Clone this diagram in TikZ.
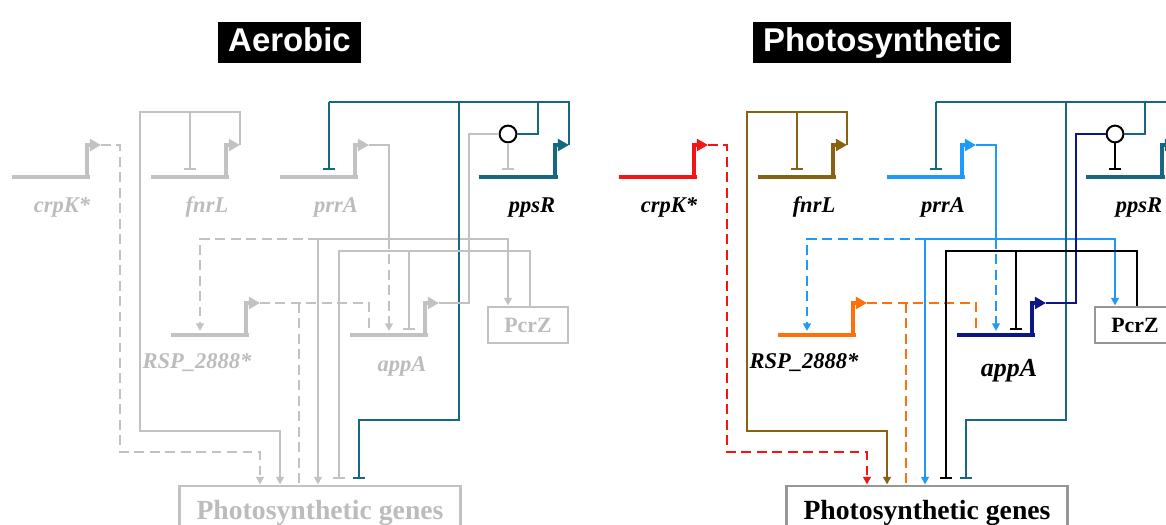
\documentclass[tikz,border=0pt]{standalone}
\usepackage{fontspec}
\setmainfont{Liberation Serif}
\newfontfamily\headfont{Liberation Sans}
\usetikzlibrary{arrows.meta}
\definecolor{netgray}{RGB}{194,194,194}
\definecolor{labgray}{RGB}{188,188,188}
\definecolor{boxgray}{RGB}{150,150,150}
\definecolor{crpkred}{RGB}{245,20,20}
\definecolor{fnrlbrown}{RGB}{135,98,18}
\definecolor{prrablue}{RGB}{30,155,250}
\definecolor{ppsrteal}{RGB}{22,104,128}
\definecolor{appanavy}{RGB}{12,22,135}
\definecolor{rsporange}{RGB}{255,112,10}
\tikzset{
  gene/.style={line width=3.2pt},
  prom/.style={line width=2.2pt, -{Triangle[length=8pt,width=8.5pt]}},
  link/.style={line width=1.5pt},
  act/.style={link, -{Triangle[length=5.5pt,width=5.5pt]}},
  inh/.style={link, -{Bar[width=8pt]}},
  dsh/.style={dash pattern=on 7pt off 4pt},
  glabel/.style={anchor=base, inner sep=0pt, font=\fontsize{16}{18}\selectfont\bfseries\itshape},
  appalabel/.style={},
  cplx/.style={circle, draw=black, fill=white, line width=1.4pt, minimum size=0.42cm, inner sep=0pt},
  pcrzbox/.style={draw=cbox, line width=2.1pt, minimum width=2cm, minimum height=0.9cm,
                  inner sep=0pt, font=\fontsize{15.5}{18}\selectfont\bfseries},
  pgbox/.style={draw=cbox, line width=2.1pt, minimum width=7cm, minimum height=1.35cm,
                inner sep=0pt, font=\fontsize{19.7}{22}\selectfont\bfseries},
  titlebox/.style={fill=black, text=white, minimum height=1.025cm, inner sep=0pt,
                   text height=17pt, text depth=4pt, font=\headfont\fontsize{23.4}{26}\selectfont\bfseries},
}
\newcommand\netpanel{%
  \node[pcrzbox, text=cboxtext] (pcrz) at (528,325) {PcrZ};
  \node[pgbox, text=cboxtext] (pg) at (320,513) {Photosynthetic genes};
  \coordinate (pgbar) at ([yshift=4pt]pg.north);
  \node[cplx] (cx) at (508,134) {};
  \foreach \g/\xs/\xe/\y in {crpk/12/90/177, fnrl/151/229/177, prra/280/358/177,
                             ppsr/479/558/177, rsp/171/249/335, appa/350/428/335}{
    \draw[gene, draw=c\g] (\xs,\y) -- (\xe,\y);
    \draw[prom, draw=c\g] (\xe-3,\y) -- (\xe-3,\y-32) -- (\xe+11,\y-32) coordinate (\g-p);
  }
  \node[glabel, text=clab] (crpk-l) at (62,213) {crpK*};
  \node[glabel, text=clab] (fnrl-l) at (207,213) {fnrL};
  \node[glabel, text=clab] (prra-l) at (336,213) {prrA};
  \node[glabel] (ppsr-l) at (532,213) {ppsR};
  \node[glabel, text=clab] (rsp-l) at (197,368) {RSP\_2888*};
  \node[glabel, text=clab, appalabel] (appa-l) at (402,371) {appA};
  \draw[act, dsh, draw=ccrpk] (crpk-p) -| (120,452) -| (260,0 |- pg.north);
  \draw[act, draw=cfnrl] (fnrl-p) |- (140,112) -- (140,431) -| (280,0 |- pg.north);
  \draw[inh, draw=cfnrl] (190,112) -- (190,170);
  \draw[link, draw=cprra] (prra-p) -| (389,239);
  \draw[act, draw=cprra] (318,239) -- (318,0 |- pg.north);
  \draw[act, draw=cprra] (318,239) -| (508,0 |- pcrz.north);
  \draw[act, dsh, draw=cprra] (318,239) -| (200,331);
  \draw[act, dsh, draw=cprra] (389,239) -- (389,331);
  \draw[link, draw=cppsr] (ppsr-p) |- (329,102);
  \draw[inh, draw=cppsr] (329,102) -- (329,170);
  \draw[inh, draw=cppsr] (459,102) -- (459,420) -| (359,0 |- pgbar);
  \draw[link, draw=cppsr] (538,102) |- (cx.east);
  \draw[inh, draw=cstem] (cx.south) -- (508,170);
  \draw[link, draw=cappa] (appa-p) -| (469,134) -- (cx.west);
  \draw[link, dsh, draw=crsp] (rsp-p) -| (369,333);
  \draw[link, dsh, draw=crsp] (299,303) -- (299,0 |- pg.north);
  \draw[inh, draw=cpcrz] (530,0 |- pcrz.north) |- (339,251) -- (339,0 |- pgbar);
  \draw[inh, draw=cpcrz] (409,251) -- (409,330);
}
\begin{document}
\begin{tikzpicture}[x=0.025cm, y=-0.025cm]
  \useasboundingbox (0,0) rectangle (1166,525);
  \clip (0,0) rectangle (1166,525);
  \node[titlebox, minimum width=3.575cm] (aer) at (289.5,42.5) {Aerobic};
  \node[titlebox, minimum width=6.45cm] (pho) at (882,42.5) {Photosynthetic};
  \begin{scope}[name prefix=aer-]
    \colorlet{ccrpk}{netgray}\colorlet{cfnrl}{netgray}\colorlet{cprra}{netgray}
    \colorlet{cppsr}{ppsrteal}\colorlet{crsp}{netgray}\colorlet{cappa}{netgray}
    \colorlet{cpcrz}{netgray}\colorlet{cstem}{netgray}\colorlet{clab}{labgray}
    \colorlet{cbox}{netgray}\colorlet{cboxtext}{labgray}
    \netpanel
  \end{scope}
  \begin{scope}[name prefix=pho-, shift={(607,0)},
      appalabel/.style={yshift=-4pt, font=\fontsize{18.5}{20}\selectfont\bfseries\itshape}]
    \colorlet{ccrpk}{crpkred}\colorlet{cfnrl}{fnrlbrown}\colorlet{cprra}{prrablue}
    \colorlet{cppsr}{ppsrteal}\colorlet{crsp}{rsporange}\colorlet{cappa}{appanavy}
    \colorlet{cpcrz}{black}\colorlet{cstem}{black}\colorlet{clab}{black}
    \colorlet{cbox}{boxgray}\colorlet{cboxtext}{black}
    \netpanel
  \end{scope}
\end{tikzpicture}
\end{document}
